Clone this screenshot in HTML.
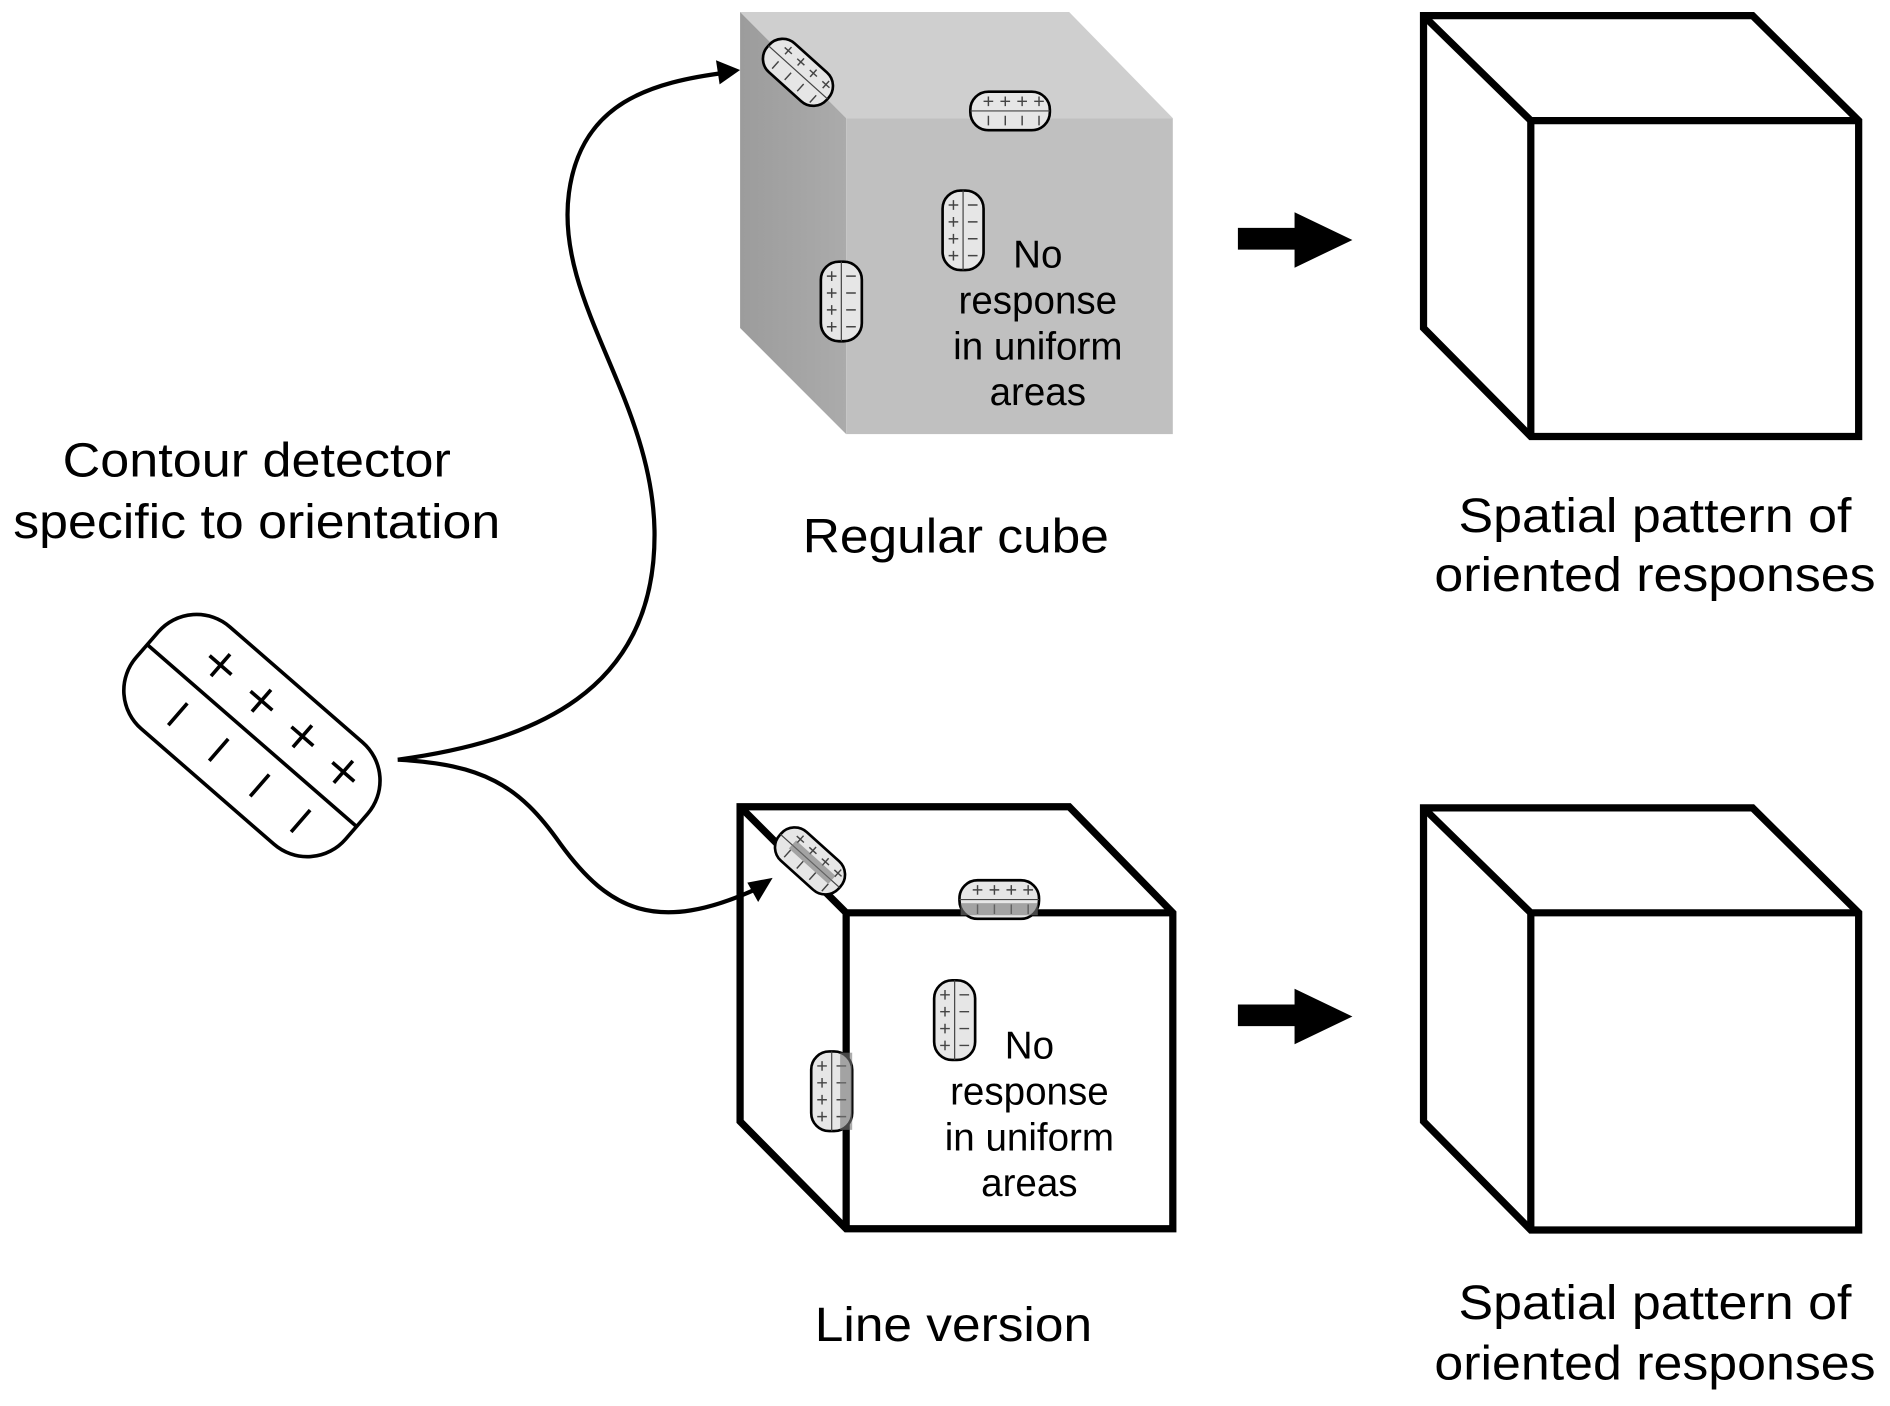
<!DOCTYPE html>
<html><head><meta charset="utf-8"><style>
html,body{margin:0;padding:0;background:#fff;}
svg{display:block;}
text{font-family:"Liberation Sans",Arial,sans-serif;fill:#000;}
</style></head><body>
<svg width="1890" height="1406" viewBox="0 0 1568 1166" preserveAspectRatio="none" xmlns="http://www.w3.org/2000/svg">
<defs>
<linearGradient id="lf" x1="0" y1="0" x2="1" y2="0">
<stop offset="0" stop-color="#9c9c9c"/><stop offset="1" stop-color="#ababab"/>
</linearGradient>
<g id="dh">
<rect x="-33" y="-16" width="66" height="32" rx="15" fill="#e6e6e6" stroke="#000" stroke-width="2.2"/>
<line x1="-33" y1="0" x2="33" y2="0" stroke="#444" stroke-width="1"/>
<g stroke="#444" stroke-width="1.2">
<path d="M-22,-8h8M-18,-12v8 M-8,-8h8M-4,-12v8 M6,-8h8M10,-12v8 M20,-8h8M24,-12v8"/>
<path d="M-18,4v8 M-4,4v8 M10,4v8 M24,4v8"/>
</g>
</g>
<g id="dv">
<rect x="-17" y="-33" width="34" height="66" rx="15" fill="#e6e6e6" stroke="#000" stroke-width="2.2"/>
<line x1="0" y1="-33" x2="0" y2="33" stroke="#444" stroke-width="1"/>
<g stroke="#444" stroke-width="1.2">
<path d="M-12,-21h8M-8,-25v8 M-12,-7h8M-8,-11v8 M-12,7h8M-8,3v8 M-12,21h8M-8,17v8"/>
<path d="M4,-21h8 M4,-7h8 M4,7h8 M4,21h8"/>
</g>
</g>
</defs>

<polygon points="614,10 887,10 973,98 702,98" fill="#cfcfcf"/>
<polygon points="614,10 702,98 702,360 614,272" fill="url(#lf)"/>
<rect x="702" y="98" width="271" height="262" fill="#c0c0c0"/>

<use href="#dh" transform="translate(662,60) rotate(42)"/>
<use href="#dh" transform="translate(838,92)"/>
<use href="#dv" transform="translate(799,191)"/>
<use href="#dv" transform="translate(698,250)"/>
<g font-size="32" text-anchor="middle">
<text x="861" y="222">No</text>
<text x="861" y="260">response</text>
<text x="861" y="298">in uniform</text>
<text x="861" y="336">areas</text>
</g>

<g fill="none" stroke="#000" stroke-width="6" stroke-linejoin="miter">
<polygon points="614,669 887,669 973,757 973,1019 702,1019 614,930"/>
<polyline points="614,669 702,757 973,757"/>
<line x1="702" y1="757" x2="702" y2="1019"/>
</g>
<use href="#dh" transform="translate(672,714) rotate(42)"/>
<use href="#dh" transform="translate(829,746)"/>
<use href="#dv" transform="translate(792,846)"/>
<use href="#dv" transform="translate(690,905)"/>
<g fill="#777" opacity="0.6">
<rect x="797" y="749" width="64" height="10"/>
<rect x="697" y="873" width="10" height="64"/>
<rect x="652" y="709" width="44" height="9" transform="rotate(42 672 714)"/>
</g>
<g font-size="32" text-anchor="middle">
<text x="854" y="878">No</text>
<text x="854" y="916">response</text>
<text x="854" y="954">in uniform</text>
<text x="854" y="992">areas</text>
</g>

<g fill="none" stroke="#000" stroke-width="6">
<polygon points="1181,13 1454,13 1542,100 1542,362 1270,362 1181,272"/>
<polyline points="1181,13 1270,100 1542,100"/>
<line x1="1270" y1="100" x2="1270" y2="362"/>
<polygon points="1181,670 1454,670 1542,757 1542,1020 1270,1020 1181,930"/>
<polyline points="1181,670 1270,757 1542,757"/>
<line x1="1270" y1="757" x2="1270" y2="1020"/>
</g>

<polygon points="1027,189 1074,189 1074,176 1122,199 1074,222 1074,207 1027,207" fill="#000"/>
<polygon points="1027,833 1074,833 1074,820 1122,843 1074,866 1074,851 1027,851" fill="#000"/>

<g transform="translate(209,610) rotate(41)">
<rect x="-115" y="-56" width="230" height="112" rx="42" fill="#fff" stroke="#000" stroke-width="3"/>
<line x1="-115" y1="0" x2="115" y2="0" stroke="#000" stroke-width="3"/>
<g stroke="#000" stroke-width="3">
<path d="M-70,-27h24M-58,-39v24 M-25,-27h24M-13,-39v24 M20,-27h24M32,-39v24 M65,-27h24M77,-39v24"/>
<path d="M-58,15v24 M-13,15v24 M32,15v24 M77,15v24"/>
</g>
</g>

<g fill="none" stroke="#000" stroke-width="3.5">
<path d="M330,630 C440,615 545,575 543,440 C541,330 460,250 472,160 C482,85 540,68 604,60"/>
<path d="M330,630 C400,634 430,650 465,700 C505,755 545,775 628,737"/>
</g>
<polygon points="614,58 594,50 597,70" fill="#000"/>
<polygon points="641,728 620,732 629,748" fill="#000"/>

<g font-size="40" text-anchor="middle">
<text x="213" y="395" textLength="322" lengthAdjust="spacingAndGlyphs">Contour detector</text>
<text x="213" y="446" textLength="404" lengthAdjust="spacingAndGlyphs">specific to orientation</text>
<text x="793" y="458" textLength="254" lengthAdjust="spacingAndGlyphs">Regular cube</text>
<text x="1373" y="441" textLength="326" lengthAdjust="spacingAndGlyphs">Spatial pattern of</text>
<text x="1373" y="490" textLength="366" lengthAdjust="spacingAndGlyphs">oriented responses</text>
<text x="791" y="1112" textLength="230" lengthAdjust="spacingAndGlyphs">Line version</text>
<text x="1373" y="1094" textLength="326" lengthAdjust="spacingAndGlyphs">Spatial pattern of</text>
<text x="1373" y="1144" textLength="366" lengthAdjust="spacingAndGlyphs">oriented responses</text>
</g>
</svg>
</body></html>
